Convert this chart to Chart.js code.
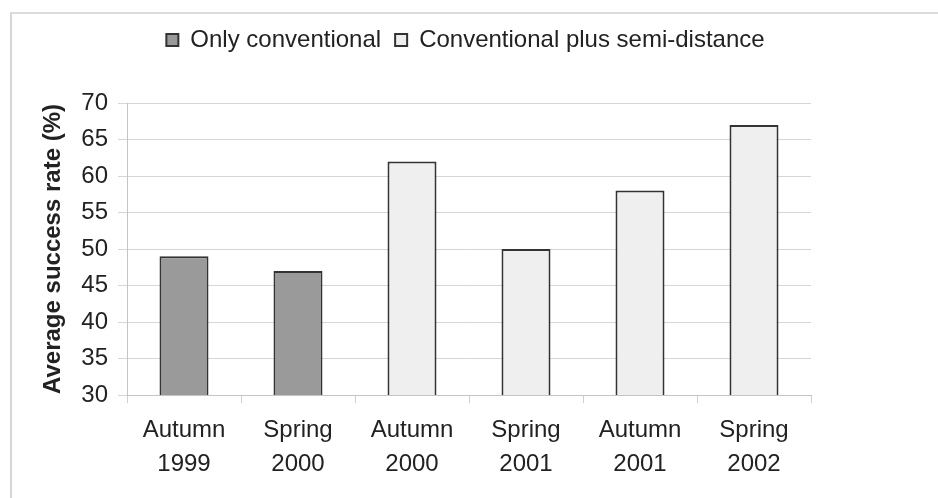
<!DOCTYPE html>
<html>
<head>
<meta charset="utf-8">
<script src="https://cdn.jsdelivr.net/npm/chart.js@4"></script>
<style>
  body { margin: 0; background: #fff; }
  #frame { position: absolute; left: 10px; top: 12px; width: 940px; height: 500px;
           border-left: 2px solid #d6d6d6; border-top: 2px solid #dcdcdc; }
  #myChart { position: absolute; left: 0; top: 0; }
</style>
</head>
<body>
<div id="frame"></div>
<canvas id="myChart" width="938" height="498"></canvas>
<script>
const categories = [
  ['Autumn', '1999'], ['Spring', '2000'], ['Autumn', '2000'],
  ['Spring', '2001'], ['Autumn', '2001'], ['Spring', '2002']
];
const onlyConventional = [49, 47, null, null, null, null];
const plusSemiDistance = [null, null, 62, 50, 58, 67];
const yTicks = [30, 35, 40, 45, 50, 55, 60, 65, 70];

const FONT = "'Liberation Sans', Arial, sans-serif";

// legend: fixed height so plot starts near y=103, and nudged right to sit over the page centre
const legendTweak = {
  id: 'legendTweak',
  beforeInit(chart) {
    const fit = chart.legend.fit;
    chart.legend.fit = function() {
      fit.bind(chart.legend)();
      this.height = 89;
    };
  },
  afterLayout(chart) {
    chart.legend.left += 50;
    chart.legend.right += 50;
  }
};

var ctx = document.getElementById('myChart').getContext('2d');
var chart = new Chart(ctx, {
  type: 'bar',
  data: {
    labels: categories,
    datasets: [
      {
        label: 'Only conventional',
        data: onlyConventional,
        backgroundColor: '#9a9a9a',
        borderColor: '#333',
        borderWidth: 2,
        barPercentage: 0.43,
        categoryPercentage: 1.0,
        grouped: false
      },
      {
        label: 'Conventional plus semi-distance',
        data: plusSemiDistance,
        backgroundColor: '#efefef',
        borderColor: '#333',
        borderWidth: 2,
        barPercentage: 0.43,
        categoryPercentage: 1.0,
        grouped: false
      }
    ]
  },
  options: {
    responsive: false,
    animation: false,
    layout: { padding: { top: 14, left: 20, right: 127, bottom: 0 } },
    plugins: {
      legend: {
        position: 'top',
        labels: {
          color: '#222',
          font: { family: FONT, size: 24 },
          boxWidth: 12,
          boxHeight: 12,
          padding: 14
        }
      },
      tooltip: { enabled: false }
    },
    scales: {
      x: {
        grid: { drawOnChartArea: false, drawTicks: true, tickLength: 8, color: '#cfcfcf', offset: true },
        border: { color: '#c4c4c4', width: 1 },
        ticks: { color: '#222', font: { family: FONT, size: 24, lineHeight: 1.42 }, padding: 10, maxRotation: 0 },
        afterFit: s => { s.height = 103; }
      },
      y: {
        min: 30,
        max: 70,
        afterBuildTicks: s => { s.ticks = yTicks.map(v => ({ value: v })); },
        grid: { color: '#d6d6d6', lineWidth: 1, tickLength: 9 },
        border: { color: '#c4c4c4', width: 1 },
        ticks: { color: '#222', font: { family: FONT, size: 24 }, padding: 10 },
        title: {
          display: true,
          text: 'Average success rate (%)',
          color: '#222',
          font: { family: FONT, size: 24, weight: 'bold', lineHeight: 1.2 },
          padding: { top: 19, bottom: 0 }
        },
        afterFit: s => { s.width = 107; }
      }
    }
  },
  plugins: [legendTweak]
});
</script>
</body>
</html>
